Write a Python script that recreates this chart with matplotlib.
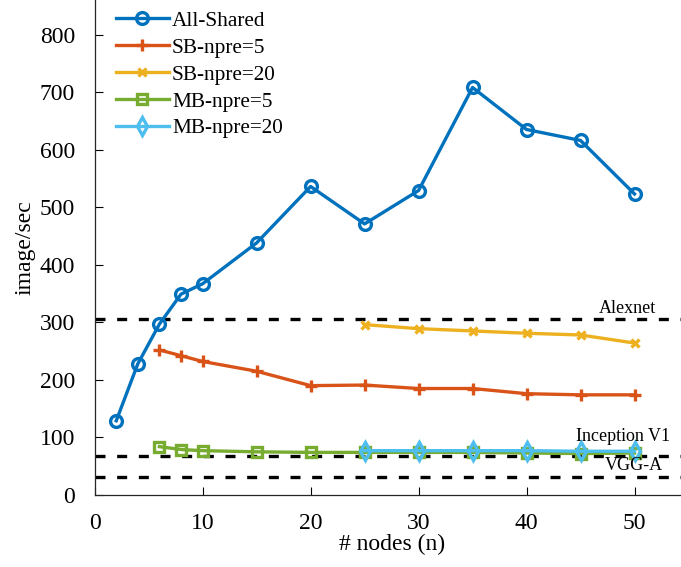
import matplotlib
matplotlib.use("Agg")
import matplotlib.pyplot as plt

plt.rcParams['font.family'] = ['Liberation Serif', 'DejaVu Serif']
plt.rcParams['mathtext.fontset'] = 'stix'

nodes_all = [2, 4, 6, 8, 10, 15, 20, 25, 30, 35, 40, 45, 50]
all_shared = [129, 228, 297, 349, 367, 438, 536, 471, 529, 708, 635, 616, 523]

nodes_sb5 = [6, 8, 10, 15, 20, 25, 30, 35, 40, 45, 50]
sb_npre5 = [252, 242, 232, 215, 190, 191, 185, 185, 176, 174, 174]

nodes_sb20 = [25, 30, 35, 40, 45, 50]
sb_npre20 = [296, 289, 285, 281, 278, 264]

nodes_mb5 = [6, 8, 10, 15, 20, 25, 30, 35, 40, 45, 50]
mb_npre5 = [84, 79, 77, 75, 74, 74, 74, 74, 73, 72, 73]

nodes_mb20 = [25, 30, 35, 40, 45, 50]
mb_npre20 = [77, 77, 77, 77, 76, 76]

ref_names = ['Alexnet', 'Inception V1', 'VGG-A']
ref_values = [306, 68, 31]

fig = plt.figure(figsize=(6.81, 5.67), dpi=100)
ax = fig.add_axes([0.139, 0.127, 0.872, 0.873])

series = [
    (nodes_all, all_shared, 'All-Shared', '#0072BD', 'o', 8.5),
    (nodes_sb5, sb_npre5, 'SB-npre=5', '#D95319', '+', 8),
    (nodes_sb20, sb_npre20, 'SB-npre=20', '#EDB120', 'x', 5.5),
    (nodes_mb5, mb_npre5, 'MB-npre=5', '#77AC30', 's', 7),
    (nodes_mb20, mb_npre20, 'MB-npre=20', '#4DBEEE', 'd', 9),
]
for xs, ys, lab, col, mk, ms in series:
    ax.plot(xs, ys, color=col, lw=2.4, marker=mk, markersize=ms,
            markerfacecolor='none', markeredgecolor=col, markeredgewidth=2.4,
            label=lab)

for v in ref_values:
    ax.axhline(v, color='black', lw=2.4, ls=(0, (3.0, 3.5)), zorder=1)

ax.text(52.0, 309, ref_names[0], ha='right', va='bottom', fontsize=13)
ax.text(53.3, 102, ref_names[1], ha='right', va='center', fontsize=13)
ax.text(52.6, 52, ref_names[2], ha='right', va='center', fontsize=13)

ax.set_xlim(0, 55)
ax.set_ylim(0, 860)
ax.set_xticks([0, 10, 20, 30, 40, 50])
ax.set_yticks(range(0, 801, 100))
ax.tick_params(direction='in', labelsize=17, length=6, width=0.8, pad=14)
ax.tick_params(axis='x', pad=13)
for s in ('left', 'bottom'):
    ax.spines[s].set_color('#262626')
    ax.spines[s].set_linewidth(0.9)
ax.spines['top'].set_visible(False)
ax.spines['right'].set_visible(False)
ax.set_xlabel('# nodes (n)', fontsize=17, labelpad=0)
ax.set_ylabel('image/sec', fontsize=17, labelpad=3)

leg = ax.legend(loc='upper left', frameon=False, fontsize=15.3,
                handlelength=2.5, handletextpad=0.15, labelspacing=0.33,
                borderaxespad=0.0, bbox_to_anchor=(0.021, 0.995))

fig.savefig('out.png', dpi=100)
